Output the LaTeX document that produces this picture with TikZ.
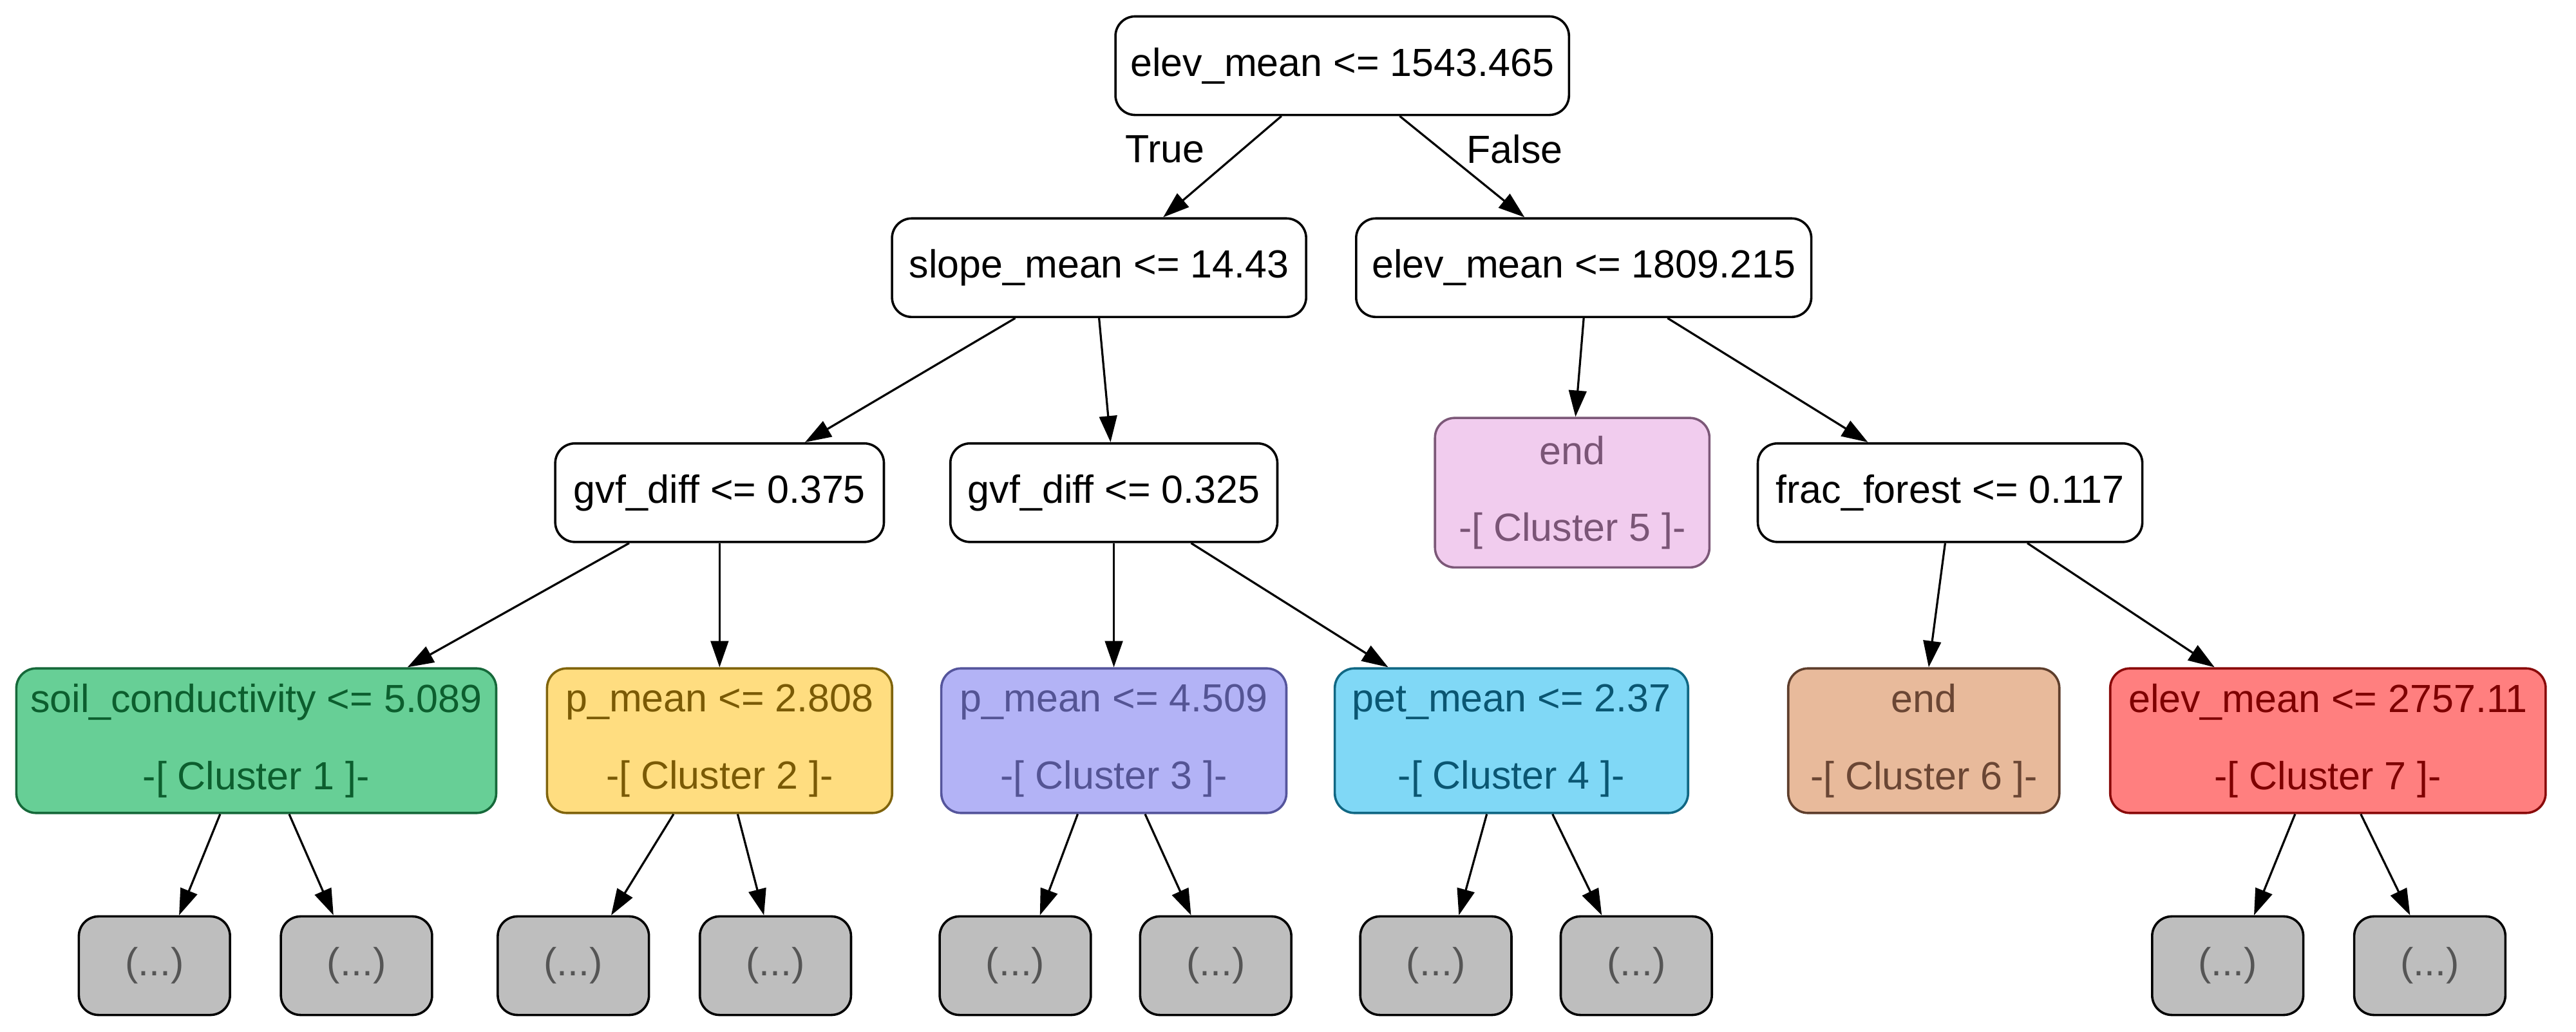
\documentclass[tikz,border=0pt]{standalone}
\usepackage{fontspec}
\setmainfont{Liberation Sans}
\usetikzlibrary{arrows.meta}

% fills, borders and text colours of the cluster boxes
\definecolor{cgreenF}{HTML}{67CF96}\definecolor{cgreenD}{HTML}{16693A}\definecolor{cgreenT}{HTML}{0C5E2E}
\definecolor{cyellF}{HTML}{FFDD80}\definecolor{cyellD}{HTML}{80640C}\definecolor{cyellT}{HTML}{7A5A05}
\definecolor{cpurpF}{HTML}{B3B3F6}\definecolor{cpurpD}{HTML}{55559C}\definecolor{cpurpT}{HTML}{545494}
\definecolor{ccyanF}{HTML}{80D8F6}\definecolor{ccyanD}{HTML}{116884}\definecolor{ccyanT}{HTML}{0A5672}
\definecolor{cpinkF}{HTML}{F1CCEE}\definecolor{cpinkD}{HTML}{7C5878}\definecolor{cpinkT}{HTML}{7A5576}
\definecolor{ctanF}{HTML}{E8BA9B}\definecolor{ctanD}{HTML}{5E3E2C}\definecolor{ctanT}{HTML}{6A4634}
\definecolor{credF}{HTML}{FF7F7F}\definecolor{credD}{HTML}{8A0A0A}\definecolor{credT}{HTML}{7E0000}
\definecolor{cgrayF}{HTML}{BEBEBE}\definecolor{cgrayT}{HTML}{555555}

\begin{document}
\begin{tikzpicture}[x=0.025cm, y=-0.025cm,
  every node/.style={font=\fontsize{17}{20.4}\selectfont},
  box/.style={draw, rounded corners=0.3cm, line width=1pt, inner sep=0pt, align=center},
  split/.style={box, fill=white, minimum height=1.5cm},
  leaf/.style={box, minimum height=2.2cm},
  more/.style={box, fill=cgrayF, text=cgrayT, minimum width=2.3cm, minimum height=1.5cm},
  edge/.style={line width=0.9pt, -{Triangle[length=0.4cm, width=0.27cm]}},
  elabel/.style={inner sep=0pt}
]
\useasboundingbox (0,0) rectangle (1568,628);

% level 0
\node[split, minimum width=6.9cm] (root) at (817,40) {elev\_mean <= 1543.465};
% level 1
\node[split, minimum width=6.3cm] (slope) at (669,163) {slope\_mean <= 14.43};
\node[split, minimum width=6.925cm] (elevB) at (964,163) {elev\_mean <= 1809.215};
% level 2
\node[split, minimum width=5.0cm] (gvfA) at (438,300) {gvf\_diff <= 0.375};
\node[split, minimum width=4.975cm] (gvfB) at (678,300) {gvf\_diff <= 0.325};
\node[box, fill=cpinkF, draw=cpinkD, text=cpinkT, minimum width=4.175cm, minimum height=2.275cm] (endF) at (957,300) {end\\[13pt]-[ Cluster 5 ]-};
\node[split, minimum width=5.85cm] (frac) at (1187,300) {frac\_forest <= 0.117};
% level 3
\node[leaf, fill=cgreenF, draw=cgreenD, text=cgreenT, minimum width=7.3cm] (soil) at (156,451) {soil\_conductivity <= 5.089\\[13pt]-[ Cluster 1 ]-};
\node[leaf, fill=cyellF, draw=cyellD, text=cyellT, minimum width=5.25cm] (pA) at (438,451) {p\_mean <= 2.808\\[13pt]-[ Cluster 2 ]-};
\node[leaf, fill=cpurpF, draw=cpurpD, text=cpurpT, minimum width=5.25cm] (pB) at (678,451) {p\_mean <= 4.509\\[13pt]-[ Cluster 3 ]-};
\node[leaf, fill=ccyanF, draw=ccyanD, text=ccyanT, minimum width=5.375cm] (pet) at (920,451) {pet\_mean <= 2.37\\[13pt]-[ Cluster 4 ]-};
\node[leaf, fill=ctanF, draw=ctanD, text=ctanT, minimum width=4.125cm] (endS) at (1171,451) {end\\[13pt]-[ Cluster 6 ]-};
\node[leaf, fill=credF, draw=credD, text=credT, minimum width=6.625cm] (elevC) at (1417,451) {elev\_mean <= 2757.11\\[13pt]-[ Cluster 7 ]-};
% level 4: truncated subtrees
\node[more] (m1) at (94,588) {(...)};
\node[more] (m2) at (217,588) {(...)};
\node[more] (m3) at (349,588) {(...)};
\node[more] (m4) at (472,588) {(...)};
\node[more] (m5) at (618,588) {(...)};
\node[more] (m6) at (740,588) {(...)};
\node[more] (m7) at (874,588) {(...)};
\node[more] (m8) at (996,588) {(...)};
\node[more] (m9) at (1356,588) {(...)};
\node[more] (m10) at (1479,588) {(...)};

% branch labels
\node[elabel] (tlab) at (709,91) {True};
\node[elabel] (flab) at (922,91) {False};

% connectors
\draw[edge] ([xshift=-0.925cm]root.south) -- ([xshift=0.975cm]slope.north);
\draw[edge] ([xshift=0.875cm]root.south) -- ([xshift=-0.9cm]elevB.north);
\draw[edge] ([xshift=-1.275cm]slope.south) -- ([xshift=1.3cm]gvfA.north);
\draw[edge] (slope.south) -- ([xshift=-0.05cm]gvfB.north);
\draw[edge] (elevB.south) -- ([xshift=0.05cm]endF.north);
\draw[edge] ([xshift=1.275cm]elevB.south) -- ([xshift=-1.25cm]frac.north);
\draw[edge] ([xshift=-1.375cm]gvfA.south) -- ([xshift=2.3cm]soil.north);
\draw[edge] (gvfA.south) -- (pA.north);
\draw[edge] (gvfB.south) -- (pB.north);
\draw[edge] ([xshift=1.175cm]gvfB.south) -- ([xshift=-1.875cm]pet.north);
\draw[edge] ([xshift=-0.075cm]frac.south) -- ([xshift=0.075cm]endS.north);
\draw[edge] ([xshift=1.175cm]frac.south) -- ([xshift=-1.725cm]elevC.north);
\draw[edge] ([xshift=-0.55cm]soil.south) -- ([xshift=0.375cm]m1.north);
\draw[edge] ([xshift=0.5cm]soil.south) -- ([xshift=-0.35cm]m2.north);
\draw[edge] ([xshift=-0.7cm]pA.south) -- ([xshift=0.575cm]m3.north);
\draw[edge] ([xshift=0.275cm]pA.south) -- ([xshift=-0.175cm]m4.north);
\draw[edge] ([xshift=-0.55cm]pB.south) -- ([xshift=0.375cm]m5.north);
\draw[edge] ([xshift=0.475cm]pB.south) -- ([xshift=-0.375cm]m6.north);
\draw[edge] ([xshift=-0.375cm]pet.south) -- ([xshift=0.35cm]m7.north);
\draw[edge] ([xshift=0.625cm]pet.south) -- ([xshift=-0.525cm]m8.north);
\draw[edge] ([xshift=-0.5cm]elevC.south) -- ([xshift=0.4cm]m9.north);
\draw[edge] ([xshift=0.5cm]elevC.south) -- ([xshift=-0.3cm]m10.north);
\end{tikzpicture}
\end{document}
